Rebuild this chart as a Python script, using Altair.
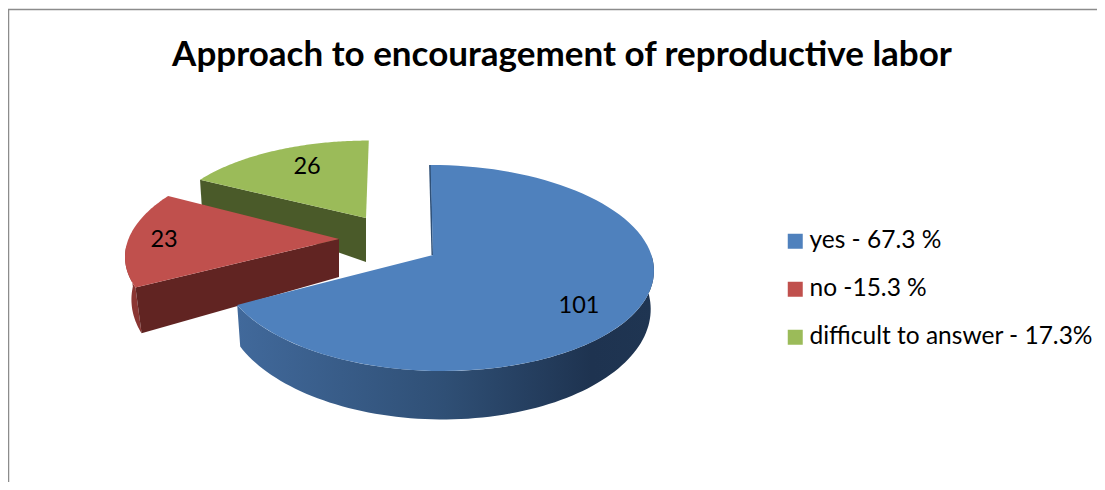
import numpy as np
import pandas as pd
import altair as alt

title = "Approach to encouragement of reproductive labor"
labels = ["yes - 67.3 %", "no -15.3 %", "difficult to answer - 17.3%"]
values = [101, 23, 26]
top_colors = ["#4F81BD", "#C0504D", "#9BBB59"]

W, H = 1089, 474
A, a, b = 214.8, 101.4, 0.126   # pie projection

# per-slice placement: origin, apex, scale, skew, rim depth, apex depth, narrowing
slices = [
    dict(o=(436.6, 255), apex=(433, 255), sx=1.0, sy=1.0, skew=-6, d=37, da=38, n=0.985, lab=(579, 306)),
    dict(o=(339, 239), apex=(339, 239), sx=0.98, sy=0.97, skew=12, d=40.7, da=38, n=0.97, lab=(164, 240)),
    dict(o=(366, 218), apex=(366, 218), sx=0.93, sy=0.86, skew=3, d=28, da=44, n=0.99, lab=(307, 167)),
]

cum = np.cumsum([0] + values) / sum(values) * 2 * np.pi
spans = list(zip(cum[:-1], cum[1:]))


def rim(s, t):
    t = np.asarray(t, dtype=float)
    X, Y = np.sin(t), np.cos(t)
    w = 1 + b * Y
    return s["o"][0] + s["sx"] * (A * X / w + s["skew"] * Y), s["o"][1] - s["sy"] * a * Y / w


def low(s, t):
    t = np.asarray(t, dtype=float)
    x, y = rim(s, t)
    w = 1 + b * np.cos(t)
    return s["o"][0] + s["n"] * (x - s["o"][0]), y + s["d"] / w ** 2


def frame(xs, ys, name):
    return pd.DataFrame({"x": xs, "y": ys, "i": range(len(xs)), "label": name})


tops = []
for s, (t0, t1), lab in zip(slices, spans, labels):
    ts = np.linspace(t0, t1, 90)
    x, y = rim(s, ts)
    tops.append(frame(np.r_[s["apex"][0], x], np.r_[s["apex"][1], y], lab))
tops = pd.concat(tops)

# blue front wall
ts = np.linspace(np.pi / 2, spans[0][1], 90)
x1, y1 = rim(slices[0], ts)
x2, y2 = low(slices[0], ts[::-1])
blue_wall = frame(np.r_[x1, x2], np.r_[y1, y2], "w")

# blue cut edge at the top
xt, yt = rim(slices[0], 0.0)
blue_edge = frame([float(xt) - 1.5, float(xt) + 0.5, slices[0]["apex"][0], slices[0]["apex"][0] - 1.5],
                  [float(yt), float(yt), slices[0]["apex"][1], slices[0]["apex"][1]], "e")

# red walls
sr = slices[1]
t_tip = spans[1][0]
ts = np.linspace(t_tip, t_tip + np.radians(24), 40)
x1, y1 = rim(sr, ts)
x2, y2 = low(sr, ts[::-1])
red_outer = frame(np.r_[x1, x2], np.r_[y1, y2], "o")
xa, ya = rim(sr, t_tip)
xb, yb = low(sr, t_tip)
red_cut = frame([sr["apex"][0], float(xa), float(xb), sr["apex"][0]],
                [sr["apex"][1], float(ya), float(yb), sr["apex"][1] + sr["da"]], "c")

# green wall
sg = slices[2]
t_g = spans[2][0]
xa, ya = rim(sg, t_g)
xb, yb = low(sg, t_g)
green_cut = frame([sg["apex"][0], float(xa), float(xb), sg["apex"][0]],
                  [sg["apex"][1], float(ya), float(yb), sg["apex"][1] + sg["da"]], "g")

xs = alt.Scale(domain=[8, 8 + W], nice=False, zero=False)
ys = alt.Scale(domain=[8 + H, 8], nice=False, zero=False)
X = alt.X("x:Q", scale=xs, axis=None)
Y = alt.Y("y:Q", scale=ys, axis=None)


def poly(df, **mark):
    return alt.Chart(df).mark_line(filled=True, strokeWidth=0, **mark).encode(x=X, y=Y, order="i:Q")


walls = [
    poly(green_cut, color="#4A5A29"),
    poly(red_outer, color="#8A3633"),
    poly(red_cut, color="#612422"),
    poly(blue_edge, color="#2F5077"),
    poly(blue_wall, color=alt.Gradient(
        gradient="linear", x1=0, x2=1, y1=0, y2=0,
        stops=[alt.GradientStop(color="#41699B", offset=0),
               alt.GradientStop(color="#2F4F75", offset=0.5),
               alt.GradientStop(color="#1E3350", offset=0.85),
               alt.GradientStop(color="#1F3552", offset=1)])),
]

top_layer = alt.Chart(tops).mark_line(filled=True, strokeWidth=0).encode(
    x=X, y=Y, order="i:Q",
    color=alt.Color("label:N", sort=labels,
                    scale=alt.Scale(domain=labels, range=top_colors),
                    legend=alt.Legend(title=None, orient="none", legendX=775, legendY=221,
                                      symbolType="square", symbolSize=225, symbolStrokeWidth=0,
                                      symbolFillColor=None,
                                      labelFont="Lato", labelFontSize=24.5, labelColor="#000000",
                                      labelLimit=400, rowPadding=23, labelOffset=2)),
)

lab_df = pd.DataFrame({"x": [s["lab"][0] for s in slices],
                       "y": [s["lab"][1] for s in slices],
                       "v": values})
texts = alt.Chart(lab_df).mark_text(font="Lato", fontSize=23.5, color="#000000").encode(x=X, y=Y, text="v:Q")

border_top = alt.Chart(pd.DataFrame({"x": [8], "x2": [8 + W], "y": [9.5]})).mark_rule(
    color="#8C8C8C", strokeWidth=1.5).encode(x=X, x2="x2:Q", y=Y)
border_left = alt.Chart(pd.DataFrame({"x": [8.5], "y": [9], "y2": [8 + H]})).mark_rule(
    color="#8C8C8C", strokeWidth=1.5).encode(x=X, y=Y, y2="y2:Q")

title_df = pd.DataFrame({"x": [562], "y": [55], "t": [title]})
title_mark = alt.Chart(title_df).mark_text(font="Lato", fontSize=35, fontWeight="bold", color="#000000").encode(
    x=X, y=Y, text="t:N")

chart = alt.layer(border_top, border_left, title_mark, *walls, top_layer, texts).properties(
    width=W, height=H, padding=0, autosize=alt.AutoSizeParams(type="none"),
    background="#FFFFFF",
).configure_view(stroke=None)

chart.save("out.html", embed_options={"renderer": "svg", "actions": False})
